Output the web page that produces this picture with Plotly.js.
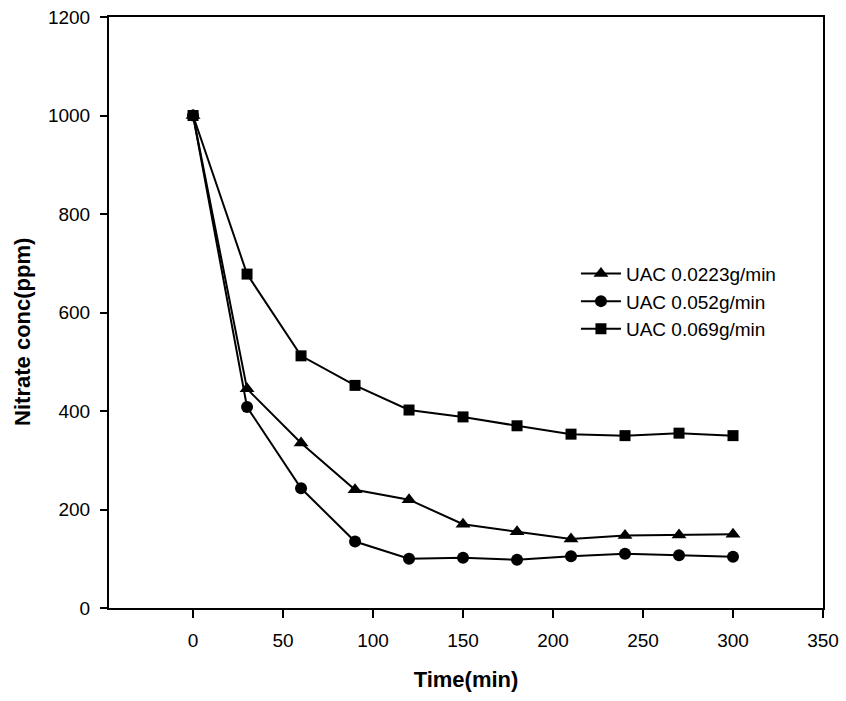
<!DOCTYPE html>
<html>
<head>
<meta charset="utf-8">
<script src="https://cdn.plot.ly/plotly-3.0.1.min.js"></script>
<style>html,body{margin:0;padding:0;background:#fff;}#chart{width:846px;height:701px;}</style>
</head>
<body>
<div id="chart"></div>
<script>
// Data
const timeMin = [0, 30, 60, 90, 120, 150, 180, 210, 240, 270, 300];
const uac0223 = [1000, 445, 335, 240, 220, 170, 155, 140, 147, 148, 150];
const uac052  = [1000, 408, 243, 135, 100, 102, 98, 105, 110, 107, 104];
const uac069  = [1000, 678, 512, 452, 402, 388, 370, 353, 350, 355, 350];
const seriesNames = ["UAC 0.0223g/min", "UAC 0.052g/min", "UAC 0.069g/min"];
const xTicks = [0, 50, 100, 150, 200, 250, 300, 350];
const yTicks = [0, 200, 400, 600, 800, 1000, 1200];
const xTitle = "Time(min)";
const yTitle = "Nitrate conc(ppm)";

const FONT = "Arial, 'Liberation Sans', sans-serif";
const mk = (sym, size) => ({symbol: sym, size: size, color: "#000"});
const ln = {color: "#000", width: 2};

const traces = [
  {x: timeMin, y: uac0223, name: seriesNames[0], mode: "lines+markers", line: ln, marker: mk("triangle-up", 13)},
  {x: timeMin, y: uac052, name: seriesNames[1], mode: "lines+markers", line: ln, marker: mk("circle", 12)},
  {x: timeMin, y: uac069, name: seriesNames[2], mode: "lines+markers", line: ln, marker: mk("square", 11)}
];

const layout = {
  width: 846, height: 701,
  paper_bgcolor: "#fff", plot_bgcolor: "#fff",
  margin: {l: 109, r: 23, t: 17, b: 93},
  font: {family: FONT, color: "#000", size: 19},
  showlegend: true,
  legend: {x: 0.654, y: 0.598, xanchor: "left", yanchor: "top", bgcolor: "rgba(0,0,0,0)",
           font: {family: FONT, size: 19, color: "#000"}, tracegroupgap: 0, itemwidth: 40},
  xaxis: {
    range: [-46.7, 350], tickvals: xTicks, ticktext: xTicks.map(String),
    showgrid: false, zeroline: false, showline: true, linecolor: "#000", linewidth: 2,
    mirror: true, ticks: "outside", ticklen: 8, tickwidth: 2, tickcolor: "#000",
    ticklabelstandoff: 6,
    tickfont: {family: FONT, size: 19, color: "#000"},
    title: {text: "<b>" + xTitle + "</b>", font: {family: FONT, size: 22, color: "#000"}, standoff: 22}
  },
  yaxis: {
    range: [0, 1200], tickvals: yTicks, ticktext: yTicks.map(String),
    showgrid: false, zeroline: false, showline: true, linecolor: "#000", linewidth: 2,
    mirror: true, ticks: "outside", ticklen: 7, tickwidth: 2, tickcolor: "#000",
    ticklabelstandoff: 6,
    tickfont: {family: FONT, size: 19, color: "#000"}
  },
  annotations: [{
    text: "<b>" + yTitle + "</b>", xref: "paper", yref: "paper",
    x: -0.122, y: 0.467, xanchor: "center", yanchor: "middle", textangle: -90,
    showarrow: false, font: {family: FONT, size: 22, color: "#000"}
  }]
};

Plotly.newPlot("chart", traces, layout, {displayModeBar: false, staticPlot: true});
</script>
</body>
</html>
